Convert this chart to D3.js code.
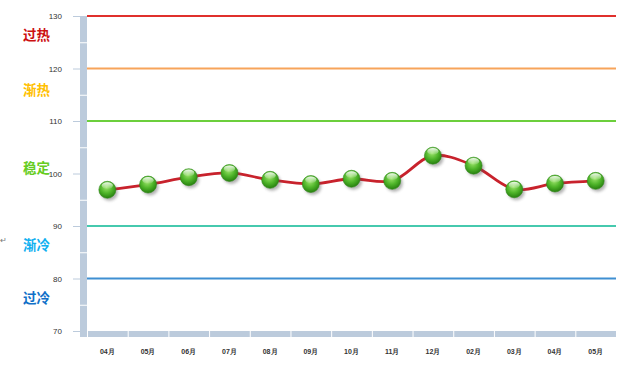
<!DOCTYPE html>
<html>
<head>
<meta charset="utf-8">
<script src="https://cdn.jsdelivr.net/npm/d3@7"></script>
<style>
  body { margin: 0; background: #fff; }
  text { font-family: "Liberation Sans", Arial, sans-serif; }
</style>
</head>
<body>
<div id="container"></div>
<script>
let w = 635;
let h = 369;

// data
let months = ["04月", "05月", "06月", "07月", "08月", "09月", "10月", "11月", "12月", "02月", "03月", "04月", "05月"];
let values = [96.9, 97.9, 99.3, 100.1, 98.8, 98.0, 99.0, 98.6, 103.4, 101.5, 97.0, 98.1, 98.6];
let yTicks = [70, 80, 90, 100, 110, 120, 130];
let bandValues = [130, 120, 110, 90, 80];
let bandColors = ["#e0302c", "#f7a45a", "#6ccf3c", "#46c9ae", "#3f8fd2"];
let zoneLabels = ["过热", "渐热", "稳定", "渐冷", "过冷"];
let zoneValues = [126.3, 116.0, 101.0, 86.3, 76.2];
let zoneColors = ["#cc1010", "#ffc000", "#66cc22", "#10b0f0", "#1070c8"];

let viz = d3.select("#container")
  .append("svg")
    .attr("width", w)
    .attr("height", h)
;

let xScale = d3.scaleBand().domain(d3.range(months.length)).range([87, 616]);
let yScale = d3.scaleLinear().domain([70, 130]).range([331, 16]);

let defs = viz.append("defs");
let grad = defs.append("radialGradient")
  .attr("id", "ball")
  .attr("cx", "45%").attr("cy", "35%").attr("r", "65%");
grad.append("stop").attr("offset", "0%").attr("stop-color", "#9be36a");
grad.append("stop").attr("offset", "55%").attr("stop-color", "#4fb52a");
grad.append("stop").attr("offset", "100%").attr("stop-color", "#27800f");

let shine = defs.append("linearGradient")
  .attr("id", "shine").attr("x1", 0).attr("y1", 0).attr("x2", 0).attr("y2", 1);
shine.append("stop").attr("offset", "0%").attr("stop-color", "#fff").attr("stop-opacity", 0.9);
shine.append("stop").attr("offset", "100%").attr("stop-color", "#fff").attr("stop-opacity", 0.05);

let blur = defs.append("filter").attr("id", "blur")
  .attr("x", "-50%").attr("y", "-50%").attr("width", "200%").attr("height", "200%");
blur.append("feGaussianBlur").attr("stdDeviation", 1.5);

// left wall segments
let wallStops = [130, 125, 115, 105, 95, 85, 75];
let wall = viz.append("g").attr("class", "wall");
wallStops.forEach(function(v, i){
  let top = yScale(v);
  let bottom = i < wallStops.length - 1 ? yScale(wallStops[i + 1]) : 337;
  wall.append("rect")
    .attr("x", 80)
    .attr("y", top + (i == 0 ? 0 : 1))
    .attr("width", 7)
    .attr("height", bottom - top - (i == 0 ? 0 : 1))
    .attr("fill", "#bccbdc");
});

// floor segments
let floor = viz.append("g").attr("class", "floor");
months.forEach(function(m, i){
  floor.append("rect")
    .attr("x", xScale(i) + 1)
    .attr("y", 331)
    .attr("width", xScale.bandwidth() - 1)
    .attr("height", 6)
    .attr("fill", "#bccbdc");
});

// y axis
let yAxis = d3.axisLeft(yScale).tickValues(yTicks).tickSize(7).tickPadding(11);
let yAxisGroup = viz.append("g").attr("class", "yaxis")
  .attr("transform", "translate(80, 0)")
  .call(yAxis);
yAxisGroup.select(".domain").remove();
yAxisGroup.selectAll("line").attr("stroke", "#bccbdc");
yAxisGroup.selectAll("text")
  .attr("font-size", 8)
  .attr("fill", "#333")
  .style("font-family", "'Liberation Sans', Arial, sans-serif");

// x axis
let xAxis = d3.axisBottom(xScale).tickSize(0).tickPadding(0)
  .tickFormat(function(d){ return months[d]; });
let xAxisGroup = viz.append("g").attr("class", "xaxis")
  .attr("transform", "translate(0, 349)")
  .call(xAxis);
xAxisGroup.select(".domain").remove();
xAxisGroup.selectAll("text")
  .attr("font-size", 7)
  .attr("font-weight", "bold")
  .attr("fill", "#333")
  .style("font-family", "'Liberation Sans', Arial, sans-serif");

// threshold lines
viz.append("g").selectAll("line")
  .data(bandValues)
  .enter()
  .append("line")
    .attr("x1", 87)
    .attr("x2", 616)
    .attr("y1", function(d){ return yScale(d); })
    .attr("y2", function(d){ return yScale(d); })
    .attr("stroke", function(d, i){ return bandColors[i]; })
    .attr("stroke-width", 2)
;

// zone labels
viz.append("g").selectAll("text")
  .data(zoneLabels)
  .enter()
  .append("text")
    .text(function(d){ return d; })
    .attr("x", 23)
    .attr("y", function(d, i){ return yScale(zoneValues[i]) + 5; })
    .attr("font-size", 13.5)
    .attr("font-weight", "bold")
    .style("font-family", "'Noto Sans CJK SC', sans-serif")
    .attr("fill", function(d, i){ return zoneColors[i]; })
;

// small return mark at the left edge
viz.append("text")
  .text("↵")
  .attr("x", 0)
  .attr("y", 243)
  .attr("font-size", 8)
  .attr("fill", "#777");

// line
let line = d3.line()
  .x(function(d, i){ return xScale(i) + xScale.bandwidth() / 2; })
  .y(function(d){ return yScale(d); })
  .curve(d3.curveCatmullRom.alpha(0.5));

viz.append("path")
  .datum(values)
  .attr("d", line)
  .attr("fill", "none")
  .attr("stroke", "#c8222c")
  .attr("stroke-width", 2.8);

// markers
let balls = viz.append("g").selectAll("g")
  .data(values)
  .enter()
  .append("g")
    .attr("transform", function(d, i){
      return "translate(" + (xScale(i) + xScale.bandwidth() / 2) + ", " + yScale(d) + ")";
    })
;
balls.append("circle")
  .attr("cx", 2).attr("cy", 2.5).attr("r", 8.5)
  .attr("fill", "#555").attr("opacity", 0.45)
  .attr("filter", "url(#blur)");
balls.append("circle")
  .attr("r", 8.5)
  .attr("fill", "url(#ball)")
  .attr("stroke", "#2f8a18")
  .attr("stroke-width", 0.6);
balls.append("ellipse")
  .attr("cx", 0).attr("cy", -4.2).attr("rx", 5.6).attr("ry", 3.4)
  .attr("fill", "url(#shine)");
</script>
</body>
</html>
